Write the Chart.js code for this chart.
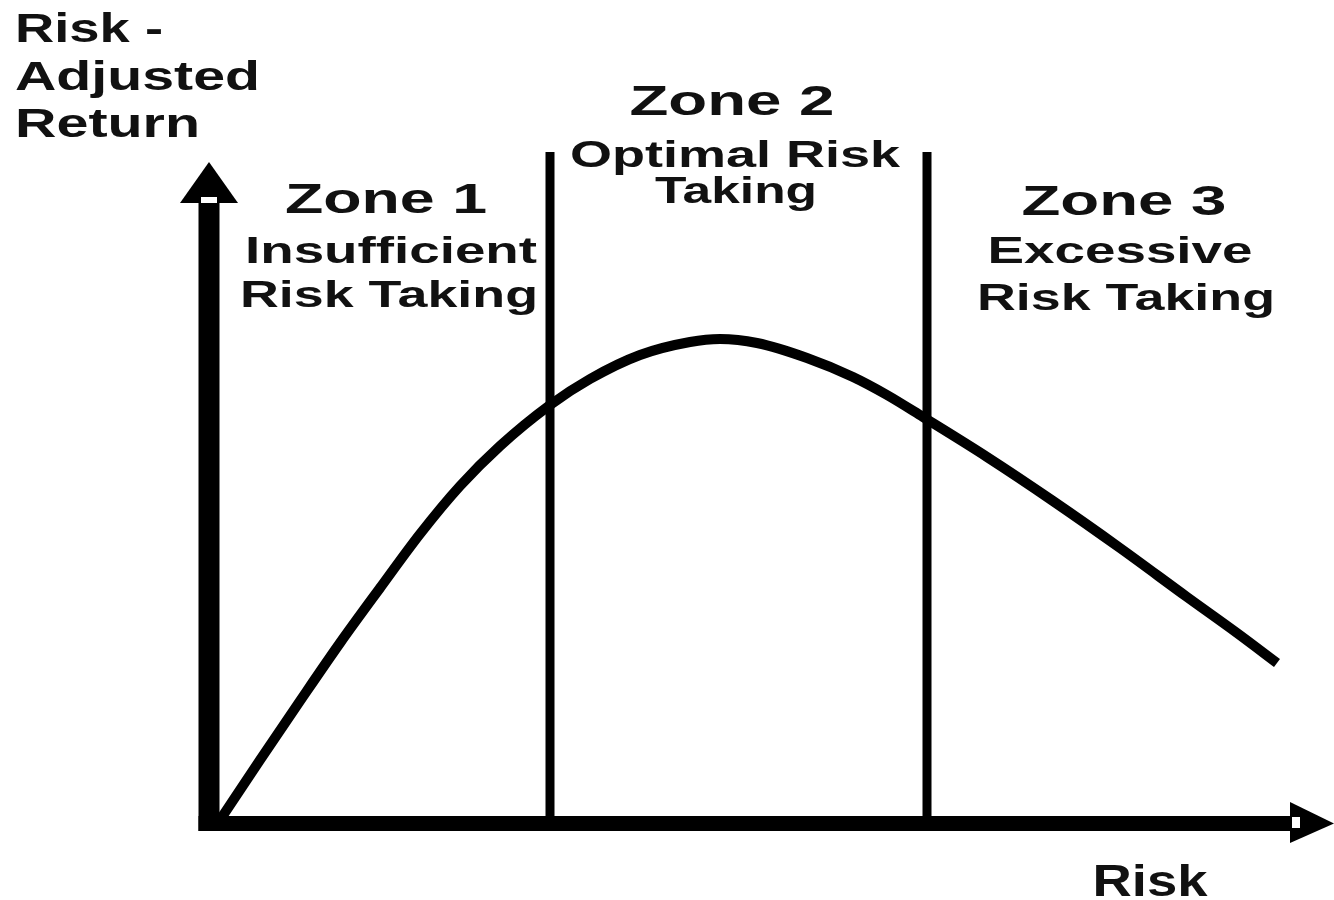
<!DOCTYPE html>
<html lang="en">

<head>
    <meta charset="UTF-8">
    <meta name="viewport" content="width=device-width, initial-scale=1.0">
    <title>Risk-Adjusted Return Zones</title>
    <style>
        body {
            margin: 0;
            padding: 0;
            background-color: #ffffff;
        }

        .chart-container {
            position: relative;
            width: 1334px;
            height: 900px;
        }
    </style>
    <script src="https://cdn.jsdelivr.net/npm/chart.js"></script>
</head>

<body>
    <div class="chart-container">
        <canvas id="riskChart"></canvas>
    </div>
    <script>
        // curve (risk on x, risk-adjusted return on y)
        const riskValues = [0.9, 5.1, 9.1, 13.1, 17.1, 21.1, 25.1, 29.1, 34.1, 38.1, 43.1, 48.1, 51.1,
            54.8, 59.8, 64.4, 67.8, 71.4, 77.8, 84.4, 91.1, 97.8, 102.8, 106.8];
        const returnValues = [0, 6.3, 12.2, 18.0, 23.5, 28.9, 33.7, 37.7, 41.8, 44.4, 46.8, 48.1, 48.4,
            48.0, 46.5, 44.6, 42.8, 40.6, 36.6, 32.2, 27.5, 22.6, 19.0, 16.0];

        // zone boundaries
        const zoneEdges = [34.1, 71.8];
        const zoneEdgeTop = 67.1;

        const zoneTitles = ['Zone 1', 'Zone 2', 'Zone 3'];
        const zoneDescriptions = [
            ['Insufficient', 'Risk Taking'],
            ['Optimal Risk', 'Taking'],
            ['Excessive', 'Risk Taking']
        ];
        const yAxisTitle = ['Risk -', 'Adjusted', 'Return'];
        const xAxisTitle = 'Risk';

        const curvePoints = riskValues.map((r, i) => ({ x: r, y: returnValues[i] }));

        const datasets = [{
            label: 'Risk-Adjusted Return',
            data: curvePoints,
            borderColor: '#000',
            borderWidth: 10,
            pointRadius: 0,
            cubicInterpolationMode: 'monotone',
            clip: false
        }];
        zoneEdges.forEach(edge => {
            datasets.push({
                label: 'edge',
                data: [{ x: edge, y: 0 }, { x: edge, y: zoneEdgeTop }],
                borderColor: '#000',
                borderWidth: 9,
                pointRadius: 0,
                clip: false
            });
        });

        // stretched bold text, like the wide lettering of the original
        function drawText(ctx, text, px, py, size, width, align) {
            ctx.save();
            ctx.font = `bold ${size}px "Liberation Sans", Arial, sans-serif`;
            const w = ctx.measureText(text).width;
            const left = align === 'center' ? px - width / 2 : px;
            ctx.translate(left, py);
            ctx.scale(width / w, 1);
            ctx.fillStyle = '#111';
            ctx.textBaseline = 'alphabetic';
            ctx.textAlign = 'left';
            ctx.fillText(text, 0, 0);
            ctx.restore();
        }

        const diagramPlugin = {
            id: 'diagram',
            afterDatasetsDraw(chart) {
                const ctx = chart.ctx;
                const xs = chart.scales.x;
                const ys = chart.scales.y;
                const x0 = xs.getPixelForValue(0);
                const y0 = ys.getPixelForValue(0);
                const yTip = ys.getPixelForValue(66.1);
                const xTip = xs.getPixelForValue(112.5);

                ctx.save();
                ctx.fillStyle = '#000';
                // y axis with arrow
                ctx.fillRect(x0 - 10.5, yTip + 40, 21, y0 + 8 - (yTip + 40));
                ctx.beginPath();
                ctx.moveTo(x0, yTip);
                ctx.lineTo(x0 + 29, yTip + 41);
                ctx.lineTo(x0 - 29, yTip + 41);
                ctx.closePath();
                ctx.fill();
                // x axis with arrow
                ctx.fillRect(x0 - 10.5, y0 - 7, xTip - 42 - (x0 - 10.5), 15);
                ctx.beginPath();
                ctx.moveTo(xTip, y0 + 0.5);
                ctx.lineTo(xTip - 44, y0 - 21);
                ctx.lineTo(xTip - 44, y0 + 20);
                ctx.closePath();
                ctx.fill();
                // small light notches at the arrow bases
                ctx.fillStyle = '#fff';
                ctx.fillRect(x0 - 8, yTip + 35, 16, 6);
                ctx.fillRect(xTip - 42, y0 - 6, 8, 11);
                ctx.restore();

                const zoneLayout = [
                    { x: [17.7, 18.2, 18.0], y: [61.0, 56.0, 51.6], w: [202, 292, 298] },
                    { x: [52.3, 52.6, 52.7], y: [70.8, 65.6, 62.0], w: [205, 330, 162] },
                    { x: [91.5, 91.1, 91.7], y: [60.8, 56.0, 51.3], w: [205, 265, 298] }
                ];
                zoneTitles.forEach((title, i) => {
                    const l = zoneLayout[i];
                    const lines = [title].concat(zoneDescriptions[i]);
                    lines.forEach((t, j) => {
                        drawText(ctx, t, xs.getPixelForValue(l.x[j]), ys.getPixelForValue(l.y[j]),
                            j === 0 ? 43 : 36, l.w[j], 'center');
                    });
                });

                const yTitleY = [78.1, 73.3, 68.6];
                const yTitleW = [148, 245, 185];
                yAxisTitle.forEach((t, j) => {
                    drawText(ctx, t, xs.getPixelForValue(-19.4), ys.getPixelForValue(yTitleY[j]), 41, yTitleW[j], 'left');
                });

                drawText(ctx, xAxisTitle, xs.getPixelForValue(94.1), ys.getPixelForValue(-7.3), 44, 115, 'center');
            }
        };

        const ctx = document.getElementById('riskChart').getContext('2d');
        new Chart(ctx, {
            type: 'line',
            data: { datasets: datasets },
            options: {
                responsive: true,
                maintainAspectRatio: false,
                animation: false,
                layout: {
                    padding: { left: 209, right: 25, top: 123, bottom: 77 }
                },
                scales: {
                    x: { type: 'linear', min: 0, max: 110, display: false },
                    y: { type: 'linear', min: 0, max: 70, display: false }
                },
                plugins: {
                    legend: { display: false },
                    tooltip: { enabled: false }
                }
            },
            plugins: [diagramPlugin]
        });
    </script>
</body>

</html>
